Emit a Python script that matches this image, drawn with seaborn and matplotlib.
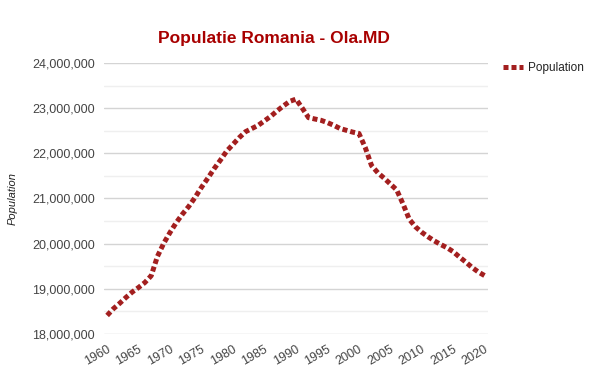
import matplotlib
matplotlib.use("Agg")
import matplotlib.pyplot as plt
import matplotlib.transforms as mtransforms
from matplotlib.ticker import FuncFormatter, MultipleLocator
import seaborn as sns
import pandas as pd

years = list(range(1960, 2021))
population = [
    18.41, 18.56, 18.68, 18.81, 18.93, 19.03, 19.14, 19.29, 19.72, 20.01,
    20.25, 20.47, 20.66, 20.83, 21.03, 21.25, 21.45, 21.66, 21.85, 22.05,
    22.20, 22.35, 22.48, 22.55, 22.62, 22.72, 22.82, 22.94, 23.05, 23.15,
    23.20, 23.00, 22.79, 22.76, 22.73, 22.68, 22.62, 22.55, 22.51, 22.47,
    22.44, 22.13, 21.73, 21.57, 21.45, 21.32, 21.19, 20.88, 20.54, 20.37,
    20.25, 20.15, 20.06, 19.98, 19.91, 19.82, 19.70, 19.59, 19.47, 19.37,
    19.29,
]
population = [v * 1_000_000 for v in population]
series_name = "Population"
title = "Populatie Romania - Ola.MD"
y_label = "Population"
x_ticks = list(range(1960, 2021, 5))

df = pd.DataFrame({"Year": years, series_name: population})

sns.set_style("white")
plt.rcParams["font.family"] = ["Liberation Sans", "DejaVu Sans"]

fig = plt.figure(figsize=(6.0, 3.73), dpi=100)
ax = fig.add_axes([0.1733, 0.1046, 0.64, 0.7265])

line_color = "#a31f1f"
sns.lineplot(data=df, x="Year", y=series_name, ax=ax, color=line_color,
             linewidth=3.6, linestyle=(0, (1.0, 0.6)), label=series_name,
             legend=False)
for ln in ax.lines:
    ln.set_dash_capstyle("butt")

ax.set_xlim(1959.5, 2020.5)
ax.set_ylim(18_000_000, 24_000_000)
ax.yaxis.set_major_locator(MultipleLocator(1_000_000))
ax.yaxis.set_minor_locator(MultipleLocator(500_000))
ax.yaxis.set_major_formatter(FuncFormatter(lambda v, p: f"{int(v):,}"))
ax.set_xticks(x_ticks)
ax.grid(which="major", axis="y", color="#d4d4d4", linewidth=1.0)
ax.grid(which="minor", axis="y", color="#efefef", linewidth=1.0)
ax.grid(axis="x", visible=False)
ax.set_axisbelow(True)
for s in ax.spines.values():
    s.set_visible(False)

ax.tick_params(axis="y", which="both", length=0, pad=6.5, labelsize=9,
               labelcolor="#444444")
ax.tick_params(axis="x", length=0, pad=6.5, labelsize=9, labelcolor="#444444")
offset = mtransforms.ScaledTranslation(-0.095, 0, fig.dpi_scale_trans)
for lbl in ax.get_xticklabels():
    lbl.set_rotation(30)
    lbl.set_ha("center")
    lbl.set_transform(lbl.get_transform() + offset)

ax.set_xlabel("")
ax.set_ylabel(y_label, fontsize=8, style="italic", color="#222222", labelpad=0)
ax.yaxis.set_label_coords(-0.225, 0.5)

fig.text(0.457, 0.897, title, ha="center", va="center", fontsize=12.5,
         fontweight="bold", color="#a80000", family=["Liberation Sans"])

handles, labels = ax.get_legend_handles_labels()
leg = fig.legend(handles, labels, loc="center left",
                 bbox_to_anchor=(0.83, 0.817), frameon=False, fontsize=8.5,
                 handlelength=1.7, handletextpad=0.4, borderaxespad=0)
for t in leg.get_texts():
    t.set_color("#222222")

fig.savefig("out.png", dpi=100, facecolor="white")
